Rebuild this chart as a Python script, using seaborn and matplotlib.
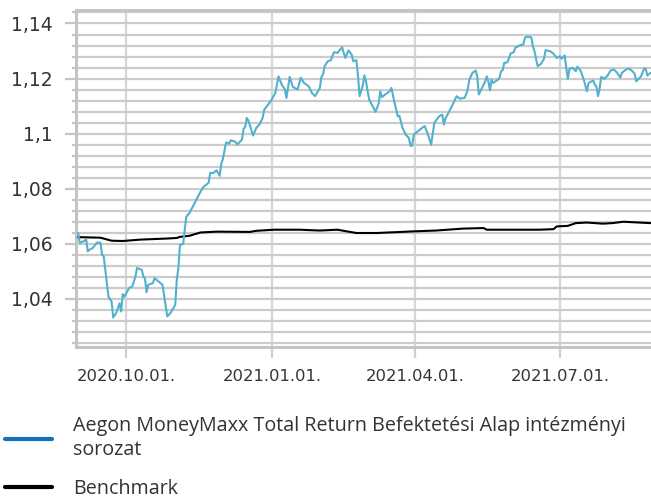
import matplotlib
matplotlib.use('Agg')
import matplotlib.pyplot as plt
import matplotlib.dates as mdates
from matplotlib.ticker import MultipleLocator, FuncFormatter
from matplotlib.lines import Line2D
import seaborn as sns
import pandas as pd

# days counted from 2020-10-01
base_date = pd.Timestamp('2020-10-01')

fund_days = [-30, -29, -26, -25, -24, -23, -21, -18, -16, -15, -14, -11, -9, -8, -6, -4, -3, -2, -1,
             2, 4, 6, 7, 10, 11, 12, 13, 14, 17, 18, 23, 26, 28, 31, 32, 33, 34, 36, 37, 38, 40,
             47, 49, 52, 53, 55, 57, 59, 60, 61, 63, 65, 66, 69, 70, 73, 74, 75, 76, 77, 80, 82,
             84, 86, 87, 91, 94, 96, 98, 100, 101, 103, 105, 108, 110, 112, 115, 117, 119, 122,
             123, 124, 125, 127, 129, 130, 131, 133, 136, 137, 138, 140, 142, 143, 145, 146, 147,
             149, 150, 151, 153, 155, 157, 159, 160, 161, 163, 166, 167, 169, 171, 172, 174, 176,
             178, 179, 180, 181, 185, 187, 188, 190, 192, 194, 197, 199, 200, 201, 205, 207, 208,
             210, 213, 214, 215, 216, 218, 220, 221, 222, 224, 226, 227, 228, 229, 230, 231, 234,
             235, 236, 237, 238, 240, 242, 244, 245, 248, 250, 251, 252, 255, 256, 257, 258, 259,
             261, 263, 264, 267, 269, 271, 273, 274, 275, 276, 277, 278, 279, 281, 283, 284, 286,
             288, 290, 291, 294, 295, 296, 297, 298, 299, 301, 303, 305, 307, 309, 311, 312, 314,
             316, 318, 320, 321, 322, 324, 326, 327, 328, 330]
fund_values = [1.0639, 1.0603, 1.0611, 1.0617, 1.0572, 1.0578, 1.0584, 1.0605, 1.0603, 1.0560,
               1.0556, 1.0408, 1.0390, 1.0332, 1.0350, 1.0384, 1.0354, 1.0417, 1.0408,
               1.0439, 1.0445, 1.0481, 1.0512, 1.0505, 1.0481, 1.0473, 1.0424, 1.0451, 1.0457,
               1.0475, 1.0451, 1.0336, 1.0348, 1.0378, 1.0469, 1.0512, 1.0596, 1.0599, 1.0651,
               1.0699, 1.0712, 1.0790, 1.0808, 1.0821, 1.0857, 1.0857, 1.0867, 1.0847, 1.0891,
               1.0908, 1.0968, 1.0964, 1.0976, 1.0970, 1.0960, 1.0978, 1.1017, 1.1024, 1.1057,
               1.1048, 1.0993, 1.1021, 1.1033, 1.1057, 1.1087, 1.1117, 1.1148, 1.1208, 1.1178,
               1.1160, 1.1130, 1.1206, 1.1170, 1.1160, 1.1203, 1.1184, 1.1172, 1.1148, 1.1136,
               1.1166, 1.1206, 1.1215, 1.1245, 1.1263, 1.1267, 1.1284, 1.1296, 1.1293, 1.1314,
               1.1293, 1.1275, 1.1302, 1.1287, 1.1263, 1.1267, 1.1208, 1.1136, 1.1175, 1.1212,
               1.1190, 1.1124, 1.1102, 1.1079, 1.1109, 1.1154, 1.1132, 1.1142, 1.1154, 1.1166,
               1.1112, 1.1063, 1.1065, 1.1021, 1.0996, 1.0984, 1.0956, 1.0956, 1.0996, 1.1015,
               1.1024, 1.1027, 1.0996, 1.0960, 1.1039, 1.1063, 1.1069, 1.1033, 1.1055, 1.1099,
               1.1124, 1.1136, 1.1127, 1.1130, 1.1142, 1.1160, 1.1196, 1.1221, 1.1229, 1.1208,
               1.1142, 1.1166, 1.1190, 1.1208, 1.1190, 1.1157, 1.1196, 1.1184, 1.1196, 1.1203,
               1.1227, 1.1230, 1.1257, 1.1259, 1.1291, 1.1296, 1.1312, 1.1321, 1.1324, 1.1348,
               1.1352, 1.1350, 1.1317, 1.1299, 1.1272, 1.1245, 1.1253, 1.1272, 1.1303, 1.1299,
               1.1290, 1.1275, 1.1281, 1.1272, 1.1277, 1.1284, 1.1239, 1.1199, 1.1235, 1.1239,
               1.1227, 1.1243, 1.1229, 1.1196, 1.1154, 1.1184, 1.1193, 1.1178, 1.1170, 1.1136,
               1.1166, 1.1206, 1.1199, 1.1211, 1.1230, 1.1233, 1.1221, 1.1203, 1.1221, 1.1230,
               1.1237, 1.1230, 1.1218, 1.1190, 1.1196, 1.1208, 1.1236, 1.1236, 1.1211, 1.1221]

bench_days = [-30, -16, -9, -2, 9, 26, 32, 34, 40, 47, 57, 78, 82, 93, 109, 122, 133, 145, 158,
              181, 195, 212, 225, 227, 239, 260, 269, 271, 278, 283, 290, 300, 306, 313, 323, 330]
bench_values = [1.0624, 1.0622, 1.0611, 1.0610, 1.0615, 1.0619, 1.0621, 1.0625, 1.0629, 1.0641,
                1.0644, 1.0643, 1.0647, 1.0651, 1.0651, 1.0648, 1.0651, 1.0639, 1.0639, 1.0645,
                1.0648, 1.0655, 1.0657, 1.0651, 1.0651, 1.0651, 1.0653, 1.0663, 1.0665, 1.0675,
                1.0677, 1.0673, 1.0675, 1.0680, 1.0677, 1.0675]

fund_label = 'Aegon MoneyMaxx Total Return Befektetési Alap intézményi\nsorozat'
bench_label = 'Benchmark'

fund = pd.DataFrame({'date': base_date + pd.to_timedelta(fund_days, unit='D'), 'value': fund_values})
bench = pd.DataFrame({'date': base_date + pd.to_timedelta(bench_days, unit='D'), 'value': bench_values})

sns.set_theme(style='white')
plt.rcParams['font.family'] = ['DejaVu Sans']

fig = plt.figure(figsize=(6.51, 4.98), dpi=100)
ax = fig.add_axes([76 / 651, 1 - 347 / 498, 1 - 76 / 651, (347 - 10) / 498])

sns.lineplot(data=bench, x='date', y='value', color='black', linewidth=1.5, ax=ax, legend=False, zorder=3)
sns.lineplot(data=fund, x='date', y='value', color='#52b1cc', linewidth=1.5, ax=ax, legend=False, zorder=4)

ax.set_xlim(base_date - pd.Timedelta(days=31.4), base_date + pd.Timedelta(days=330.3))
ax.set_ylim(1.0225, 1.1449)

ax.xaxis.set_major_locator(mdates.MonthLocator(bymonth=[1, 4, 7, 10]))
ax.xaxis.set_major_formatter(mdates.DateFormatter('%Y.%m.%d.'))
ax.yaxis.set_major_locator(MultipleLocator(0.02))
ax.yaxis.set_minor_locator(MultipleLocator(0.004))
ax.yaxis.set_major_formatter(FuncFormatter(lambda v, p: f'{v:g}'.replace('.', ',')))

ax.set_xlabel('')
ax.set_ylabel('')

ax.grid(axis='y', which='both', color='#cbcbcb', linewidth=1.6)
ax.grid(axis='x', which='major', color='#d6d6d6', linewidth=1.6)
ax.set_axisbelow(True)

for side in ['left', 'bottom', 'top']:
    ax.spines[side].set_color('#c4c4c4')
    ax.spines[side].set_linewidth(2.2)
ax.spines['right'].set_visible(False)

ax.tick_params(axis='y', which='major', direction='out', length=8, width=1.6, color='#c4c4c4',
               left=True, labelsize=13.5, labelcolor='#333333', pad=9)
ax.tick_params(axis='y', which='minor', direction='out', length=3, width=1.6, color='#c4c4c4', left=True)
ax.tick_params(axis='x', which='major', direction='out', length=8, width=1.6, color='#d0d0d0',
               bottom=True, labelsize=11.8, labelcolor='#333333', pad=8)

handles = [Line2D([], [], color='#0e72bd', linewidth=3),
           Line2D([], [], color='black', linewidth=3)]
leg = fig.legend(handles, [fund_label, bench_label], loc='upper left',
                 bbox_to_anchor=(5 / 651, 1 - 416 / 498), frameon=False,
                 borderpad=0, borderaxespad=0, handlelength=2.37, handletextpad=1.08,
                 labelspacing=0.95, prop={'family': 'Open Sans', 'size': 14.2}, labelcolor='#333333')
for t in leg.get_texts():
    t.set_linespacing(1.28)

fig.savefig('out.png', dpi=100)
